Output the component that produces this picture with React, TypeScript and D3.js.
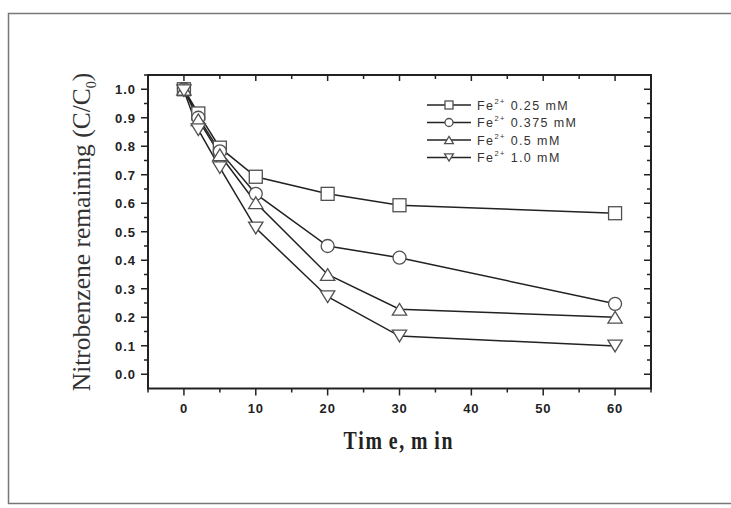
import React from "react";
import * as d3 from "d3";

// Sampling times (min)
const times = [0, 2, 5, 10, 20, 30, 60];

// Remaining fraction C/C0 for each Fe2+ dose
const fe025 = [1.0, 0.915, 0.795, 0.693, 0.633, 0.593, 0.565];
const fe0375 = [1.0, 0.9, 0.782, 0.633, 0.45, 0.409, 0.247];
const fe05 = [1.0, 0.893, 0.77, 0.602, 0.35, 0.228, 0.2];
const fe10 = [0.995, 0.858, 0.725, 0.513, 0.272, 0.134, 0.099];

const seriesLabels = ["0.25 mM", "0.375 mM", "0.5 mM", "1.0 mM"];
const seriesShapes = ["square", "circle", "triangleUp", "triangleDown"];
const seriesValues = [fe025, fe0375, fe05, fe10];

const xMajorTicks = [0, 10, 20, 30, 40, 50, 60];
const yMajorTicks = [0, 0.1, 0.2, 0.3, 0.4, 0.5, 0.6, 0.7, 0.8, 0.9, 1.0];

const W = 731;
const H = 508;
const plot = { left: 148, right: 651, top: 75, bottom: 388.5 };

const x = d3.scaleLinear().domain([-5, 65]).range([plot.left, plot.right]);
const y = d3.scaleLinear().domain([-0.05, 1.05]).range([plot.bottom, plot.top]);

const INK = "#222";
const MARK = "#505050";

function Marker({ shape, cx, cy, s }: { shape: string; cx: number; cy: number; s: number }) {
  const common = { fill: "#fff", stroke: MARK, strokeWidth: 1.3 };
  if (shape === "square") {
    return <rect x={cx - s / 2} y={cy - s / 2} width={s} height={s} {...common} />;
  }
  if (shape === "circle") {
    return <circle cx={cx} cy={cy} r={s / 2} {...common} />;
  }
  const w = s * 1.1;
  const h = s * 0.9;
  const pts =
    shape === "triangleUp"
      ? [[cx, cy - h / 2], [cx + w / 2, cy + h / 2], [cx - w / 2, cy + h / 2]]
      : [[cx, cy + h / 2], [cx + w / 2, cy - h / 2], [cx - w / 2, cy - h / 2]];
  return <polygon points={pts.map((p) => p.join(",")).join(" ")} {...common} />;
}

export default function App() {
  const line = d3
    .line<number>()
    .x((_, i) => x(times[i]))
    .y((d) => y(d));

  const xMinor = d3.range(-5, 66, 5);
  const yMinor = d3.range(0, 1.051, 0.05);

  const legendX = 427;
  const legendY0 = 105;
  const legendDy = 17.5;

  return (
    <svg
      width={W}
      height={H}
      style={{ position: "absolute", left: 0, top: 0, background: "#fff" }}
    >
      {/* outer frame */}
      <rect x={8.5} y={13.5} width={740} height={490} fill="none" stroke="#777" strokeWidth={1.5} />

      {/* series lines */}
      {seriesValues.map((vals, k) => (
        <path key={"l" + k} d={line(vals) || ""} fill="none" stroke={INK} strokeWidth={1.5} />
      ))}

      {/* series markers */}
      {seriesValues.map((vals, k) =>
        vals.map((v, i) => (
          <Marker key={`m${k}-${i}`} shape={seriesShapes[k]} cx={x(times[i])} cy={y(v)} s={13} />
        ))
      )}

      {/* axes frame */}
      <rect
        x={plot.left}
        y={plot.top}
        width={plot.right - plot.left}
        height={plot.bottom - plot.top}
        fill="none"
        stroke={INK}
        strokeWidth={2}
      />

      {/* bottom ticks (outward) and top ticks (inward) */}
      {xMinor.map((t) => {
        const major = xMajorTicks.includes(t);
        const px = x(t);
        return (
          <g key={"xt" + t}>
            <line x1={px} x2={px} y1={plot.bottom} y2={plot.bottom + (major ? 7 : 4)} stroke={INK} strokeWidth={1.5} />
            <line x1={px} x2={px} y1={plot.top} y2={plot.top + (major ? 6 : 4)} stroke={INK} strokeWidth={1.5} />
          </g>
        );
      })}
      {xMajorTicks.map((t) => (
        <text
          key={"xl" + t}
          x={x(t)}
          y={413}
          textAnchor="middle"
          fontFamily="Liberation Sans, Arial, sans-serif"
          fontWeight="bold"
          fontSize={13}
          letterSpacing={0.8}
          fill={INK}
        >
          {t}
        </text>
      ))}

      {/* left ticks (outward) and right ticks (inward) */}
      {yMinor.map((t) => {
        const r = Math.round(t * 100) / 100;
        const major = Math.round(r * 100) % 10 === 0;
        const py = y(r);
        return (
          <g key={"yt" + r}>
            <line x1={plot.left - (major ? 7 : 4)} x2={plot.left} y1={py} y2={py} stroke={INK} strokeWidth={1.5} />
            <line x1={plot.right - (major ? 7 : 4)} x2={plot.right} y1={py} y2={py} stroke={INK} strokeWidth={1.5} />
          </g>
        );
      })}
      {yMajorTicks.map((t) => (
        <text
          key={"yl" + t}
          x={136}
          y={y(t) + 4.8}
          textAnchor="end"
          fontFamily="Liberation Sans, Arial, sans-serif"
          fontWeight="bold"
          fontSize={13}
          letterSpacing={1}
          fill={INK}
        >
          {t.toFixed(1)}
        </text>
      ))}

      {/* axis titles */}
      <text
        transform="translate(399, 449) scale(0.9, 1.1)"
        textAnchor="middle"
        fontFamily="Liberation Serif, Times New Roman, serif"
        fontWeight="bold"
        fontSize={22}
        letterSpacing={2}
        wordSpacing={-2}
        fill={INK}
      >
        Tim e, m in
      </text>
      <text
        transform={`translate(90, 232) rotate(-90)`}
        textAnchor="middle"
        fontFamily="Liberation Serif, Times New Roman, serif"
        fontSize={25.5}
        fill="#333"
      >
        Nitrobenzene remaining (C/C
        <tspan fontSize={14} dy={6}>0</tspan>
        <tspan dy={-6}>)</tspan>
      </text>

      {/* legend */}
      {seriesLabels.map((lab, k) => {
        const ly = legendY0 + k * legendDy;
        return (
          <g key={"lg" + k}>
            <line x1={legendX} x2={legendX + 44} y1={ly} y2={ly} stroke={INK} strokeWidth={1.5} />
            <Marker shape={seriesShapes[k]} cx={legendX + 22} cy={ly} s={8} />
            <text
              x={legendX + 50}
              y={ly + 4.5}
              fontFamily="Liberation Sans, Arial, sans-serif"
              fontSize={12.5}
              letterSpacing={1.4}
              fill="#333"
            >
              Fe
              <tspan fontSize={7.5} dy={-6}>2+</tspan>
              <tspan dy={6}> {lab}</tspan>
            </text>
          </g>
        );
      })}
    </svg>
  );
}
